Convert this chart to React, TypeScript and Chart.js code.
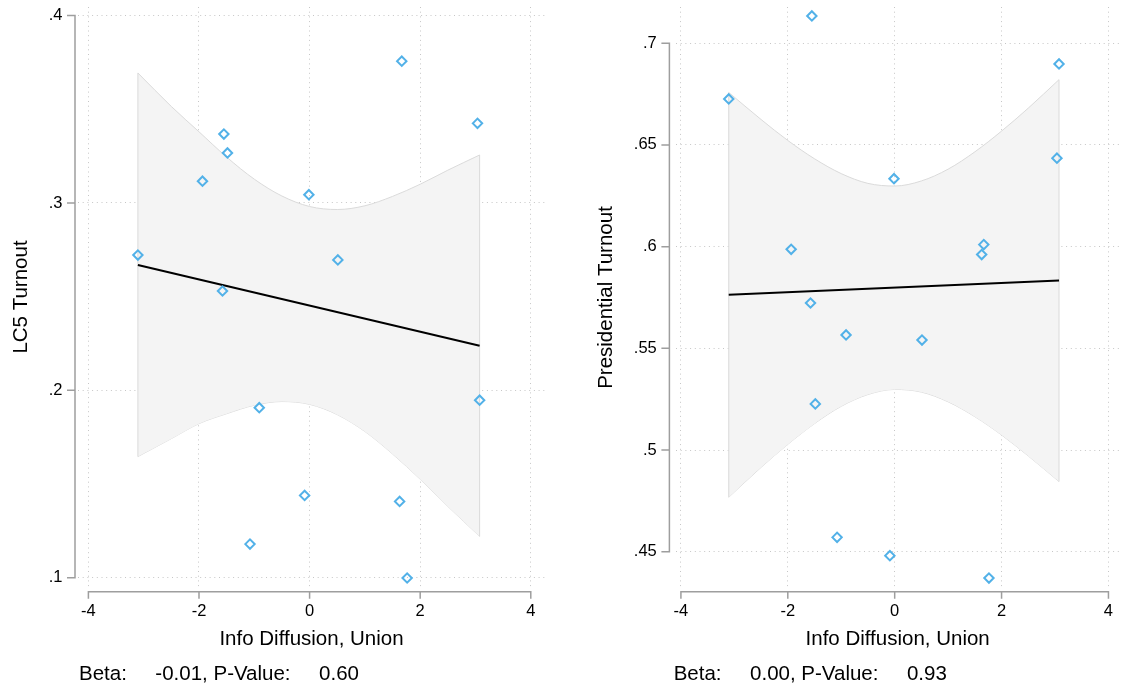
import React, { useEffect, useRef } from 'react';
import { Chart, registerables } from 'chart.js';

Chart.register(...registerables);

const FONT = '"Liberation Sans", Arial, Helvetica, sans-serif';

// ---------- data ----------
const unionInfo = [-3.105, -1.55, -1.485, -1.937, -0.013, 1.667, 3.036, 0.511, -1.575, -0.91, 3.075, -0.09, 1.628, -1.078, 1.764];
const lc5Turnout = [0.2722, 0.3368, 0.3267, 0.3116, 0.3044, 0.3757, 0.3425, 0.2696, 0.253, 0.1907, 0.1947, 0.1439, 0.1407, 0.1179, 0.0998];
const presTurnout = [0.6726, 0.7134, 0.5227, 0.5987, 0.6334, 0.601, 0.6435, 0.5541, 0.5723, 0.5566, 0.6898, 0.4481, 0.5961, 0.4571, 0.4371];

const bandX = [-3.105, -2.5, -2, -1.5, -1, -0.5, 0, 0.5, 1, 1.5, 2, 2.5, 3.075];
const lc5Upper = [0.3694, 0.3515, 0.338, 0.3245, 0.3127, 0.3037, 0.2981, 0.2965, 0.2985, 0.3035, 0.31, 0.3175, 0.3256];
const lc5Lower = [0.1646, 0.1742, 0.1822, 0.1875, 0.192, 0.194, 0.1925, 0.187, 0.178, 0.166, 0.1525, 0.138, 0.122];
const presUpper = [0.6758, 0.6625, 0.6522, 0.6432, 0.6359, 0.6311, 0.6298, 0.6323, 0.6381, 0.6466, 0.6568, 0.6681, 0.6821];
const presLower = [0.4768, 0.4915, 0.5028, 0.513, 0.5215, 0.5273, 0.5298, 0.5285, 0.5237, 0.5164, 0.5074, 0.4971, 0.4845];

const fitX = [-3.105, 3.075];
const lc5Fit = [0.2669, 0.2238];
const presFit = [0.5763, 0.5833];

const xTicks = [-4, -2, 0, 2, 4];
const lc5Ticks = [0.1, 0.2, 0.3, 0.4];
const presTicks = [0.45, 0.5, 0.55, 0.6, 0.65, 0.7];

const xTitle = 'Info Diffusion, Union';
const lc5Title = 'LC5 Turnout';
const presTitle = 'Presidential Turnout';
const lc5Note = 'Beta:     -0.01, P-Value:     0.60';
const presNote = 'Beta:     0.00, P-Value:     0.93';

// ---------- styling / layout ----------
const GRID = '#c6c6c6';
const AXIS = '#9e9e9e';
const MARK = '#52b1e8';
const BAND_FILL = '#f4f4f4';
const BAND_EDGE = '#dadada';

type Panel = {
  left: number;
  width: number;
  plotLeft: number;
  padRight: number;
  plotTop: number;
  plotBottom: number;
  xMin: number;
  xMax: number;
  yMin: number;
  yMax: number;
  yTicks: number[];
  yValues: number[];
  upper: number[];
  lower: number[];
  fit: number[];
  yTitle: string;
  yTitlePad: number;
  yTickPad: number;
  xTickPad: number;
  gapY: number;
  gapX: number;
  note: string;
  noteX: number;
};

const panels: Panel[] = [
  {
    left: 0, width: 560, plotLeft: 78, padRight: 15, plotTop: 7, plotBottom: 587,
    xMin: -4.188, xMax: 4.257, yMin: 0.095, yMax: 0.4046,
    yTicks: lc5Ticks, yValues: lc5Turnout, upper: lc5Upper, lower: lc5Lower, fit: lc5Fit,
    yTitle: lc5Title, yTitlePad: 8.7, yTickPad: 15.5, xTickPad: 14.6,
    gapY: 3, gapX: 4.7, note: lc5Note, noteX: 79,
  },
  {
    left: 560, width: 566, plotLeft: 116, padRight: 0, plotTop: 7, plotBottom: 588,
    xMin: -4.092, xMax: 4.203, yMin: 0.4322, yMax: 0.7178,
    yTicks: presTicks, yValues: presTurnout, upper: presUpper, lower: presLower, fit: presFit,
    yTitle: presTitle, yTitlePad: 33.7, yTickPad: 19.2, xTickPad: 13.6,
    gapY: 6.6, gapX: 3.7, note: presNote, noteX: 113.7,
  },
];

const H = 690;

function fmt(v: number) {
  const s = String(+v.toFixed(3));
  return s.replace(/^0\./, '.').replace(/^-0\./, '-.');
}

function buildChart(canvas: HTMLCanvasElement, p: Panel) {
  const pts = (xs: number[], ys: number[]) => xs.map((x, i) => ({ x, y: ys[i] }));
  const last = bandX.length - 1;

  const decor = {
    id: 'decor' + p.left,
    beforeDatasetsDraw(chart: any) {
      const ctx = chart.ctx;
      const xs = chart.scales.x;
      const ys = chart.scales.y;
      const ca = chart.chartArea;
      ctx.save();
      ctx.strokeStyle = AXIS;
      ctx.lineWidth = 1.5;
      ctx.setLineDash([]);
      // y axis
      const ax = ca.left - p.gapY;
      const yT = ys.getPixelForValue(p.yTicks[p.yTicks.length - 1]);
      const yB = ys.getPixelForValue(p.yTicks[0]);
      ctx.beginPath();
      ctx.moveTo(ax, yT - 0.75);
      ctx.lineTo(ax, yB + 0.75);
      p.yTicks.forEach((v) => {
        const py = ys.getPixelForValue(v);
        ctx.moveTo(ax - 8, py);
        ctx.lineTo(ax, py);
      });
      ctx.stroke();
      // x axis
      const ay = ca.bottom + p.gapX;
      const xL = xs.getPixelForValue(xTicks[0]);
      const xR = xs.getPixelForValue(xTicks[xTicks.length - 1]);
      ctx.beginPath();
      ctx.moveTo(xL - 0.75, ay);
      ctx.lineTo(xR + 0.75, ay);
      xTicks.forEach((v) => {
        const px = xs.getPixelForValue(v);
        ctx.moveTo(px, ay);
        ctx.lineTo(px, ay + 7);
      });
      ctx.stroke();
      ctx.restore();
    },
    afterDraw(chart: any) {
      const ctx = chart.ctx;
      ctx.save();
      ctx.fillStyle = '#000';
      ctx.font = `20.5px ${FONT}`;
      ctx.textBaseline = 'middle';
      ctx.textAlign = 'left';
      ctx.fillText(p.note, p.noteX, 674.5);
      ctx.restore();
    },
  };

  return new Chart(canvas, {
    type: 'scatter',
    data: {
      datasets: [
        {
          data: pts(bandX, p.upper),
          showLine: true,
          pointRadius: 0,
          borderColor: BAND_EDGE,
          borderWidth: 1,
          backgroundColor: BAND_FILL,
          fill: '+1',
          cubicInterpolationMode: 'monotone',
          order: 5,
        },
        {
          data: pts(bandX, p.lower),
          showLine: true,
          pointRadius: 0,
          borderColor: BAND_EDGE,
          borderWidth: 1,
          fill: false,
          cubicInterpolationMode: 'monotone',
          order: 5,
        },
        {
          data: [{ x: bandX[0], y: p.lower[0] }, { x: bandX[0], y: p.upper[0] }],
          showLine: true,
          pointRadius: 0,
          borderColor: BAND_EDGE,
          borderWidth: 1,
          fill: false,
          order: 4,
        },
        {
          data: [{ x: bandX[last], y: p.lower[last] }, { x: bandX[last], y: p.upper[last] }],
          showLine: true,
          pointRadius: 0,
          borderColor: BAND_EDGE,
          borderWidth: 1,
          fill: false,
          order: 4,
        },
        {
          data: pts(fitX, p.fit),
          showLine: true,
          pointRadius: 0,
          borderColor: '#000',
          borderWidth: 2,
          fill: false,
          order: 2,
        },
        {
          data: pts(unionInfo, p.yValues),
          showLine: false,
          pointStyle: 'rectRot',
          pointRadius: 4.7,
          pointBorderWidth: 2,
          pointBorderColor: MARK,
          pointBackgroundColor: 'rgba(0,0,0,0)',
          order: 1,
        },
      ],
    },
    options: {
      responsive: false,
      animation: false,
      events: [],
      devicePixelRatio: 1,
      layout: { padding: { left: 0, right: p.padRight, top: p.plotTop, bottom: 0 } },
      plugins: { legend: { display: false }, tooltip: { enabled: false } },
      scales: {
        x: {
          type: 'linear',
          min: p.xMin,
          max: p.xMax,
          afterBuildTicks: (s: any) => { s.ticks = xTicks.map((v) => ({ value: v })); },
          afterFit: (s: any) => {
            s.height = H - p.plotBottom;
            s.paddingLeft = 0; s.paddingRight = 0; s.paddingTop = 0; s.paddingBottom = 0;
          },
          grid: { color: GRID, lineWidth: 1, drawTicks: false },
          border: { display: false, dash: [1, 3.7] },
          ticks: {
            padding: p.xTickPad,
            color: '#000',
            font: { family: FONT, size: 16.5 },
            maxRotation: 0,
            autoSkip: false,
            callback: (v: any) => fmt(Number(v)),
          },
          title: {
            display: true,
            text: xTitle,
            color: '#000',
            font: { family: FONT, size: 20.5 },
            padding: { top: 0, bottom: 38.7 },
          },
        },
        y: {
          type: 'linear',
          min: p.yMin,
          max: p.yMax,
          afterBuildTicks: (s: any) => { s.ticks = p.yTicks.map((v) => ({ value: v })); },
          afterFit: (s: any) => {
            s.width = p.plotLeft;
            s.paddingLeft = 0; s.paddingRight = 0; s.paddingTop = 0; s.paddingBottom = 0;
          },
          grid: { color: GRID, lineWidth: 1, drawTicks: false },
          border: { display: false, dash: [1, 3.7] },
          ticks: {
            padding: p.yTickPad,
            color: '#000',
            font: { family: FONT, size: 16.5 },
            autoSkip: false,
            callback: (v: any) => fmt(Number(v)),
          },
          title: {
            display: true,
            text: p.yTitle,
            color: '#000',
            font: { family: FONT, size: 20.5 },
            padding: { top: p.yTitlePad, bottom: 0 },
          },
        },
      },
    },
    plugins: [decor],
  } as any);
}

function PanelChart({ panel }: { panel: Panel }) {
  const ref = useRef<HTMLCanvasElement | null>(null);
  useEffect(() => {
    if (!ref.current) return;
    const chart = buildChart(ref.current, panel);
    return () => chart.destroy();
  }, [panel]);
  return (
    <canvas
      ref={ref}
      width={panel.width}
      height={H}
      style={{ position: 'absolute', left: panel.left, top: 0, width: panel.width, height: H, display: 'block' }}
    />
  );
}

export default function App() {
  return (
    <div style={{ position: 'absolute', left: 0, top: 0, width: 1126, height: H, background: '#fff', overflow: 'hidden' }}>
      {panels.map((p) => (
        <PanelChart key={p.left} panel={p} />
      ))}
    </div>
  );
}
